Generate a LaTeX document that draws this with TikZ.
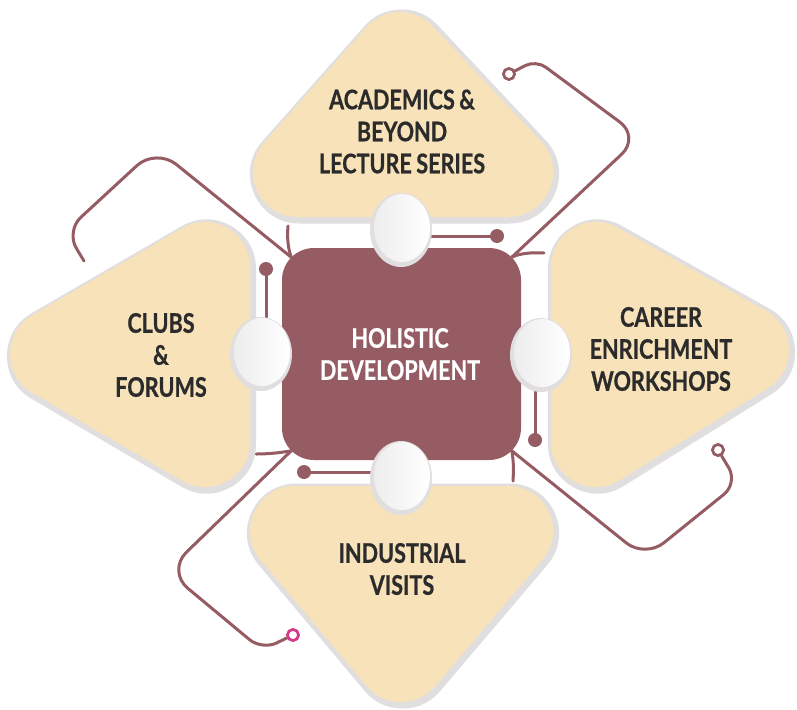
\documentclass[tikz,border=0pt]{standalone}
\usepackage{fontspec}
\newfontfamily\lato[FakeStretch=0.8,FakeBold=0.7,WordSpace=0.85]{Lato}
\usetikzlibrary{shapes.geometric,calc}
\definecolor{maroon}{RGB}{149,92,99}
\definecolor{beige}{RGB}{247,226,186}
\definecolor{rimg}{RGB}{224,222,223}
\definecolor{ink}{RGB}{43,43,43}
\definecolor{pinkc}{RGB}{214,58,140}
\begin{document}
\begin{tikzpicture}[x=1pt,y=-1pt,
  wire/.style={draw=maroon,line width=3pt,line cap=round},
  ring/.style={circle,draw=#1,line width=2.6pt,fill=white,minimum size=11pt,inner sep=0pt},
  ring/.default=maroon,
  dot/.style={circle,fill=maroon,minimum size=14pt,inner sep=0pt},
  pinshape/.style={ellipse,fill=rimg,minimum width=62pt,minimum height=74pt,inner sep=0pt},
  tririm/.style={draw=rimg,fill=rimg,line width=99pt,line join=round},
  trifill/.style={draw=beige,fill=beige,line width=90pt,line join=round},
  lab/.style={font=\lato\bfseries\fontsize{27}{32}\selectfont,text=ink,align=center,inner sep=0pt}
]
\useasboundingbox (0,0) rectangle (797,709);
\fill[white] (0,0) rectangle (797,709);

% hub geometry (for coordinates)
\path (401.5,354) node[minimum width=239pt,minimum height=212pt,inner sep=0pt] (hubbox) {};
\coordinate (hubNW) at ($(hubbox.north west)+(9.4,9.4)$);
\coordinate (hubNE) at ($(hubbox.north east)+(-9.4,9.4)$);
\coordinate (hubSE) at ($(hubbox.south east)+(-9.4,-9.4)$);
\coordinate (hubSW) at ($(hubbox.south west)+(9.4,-9.4)$);

% end rings and dots
\node[ring] (c1) at (509,74) {};
\node[ring] (c2) at (718,450) {};
\node[ring=pinkc] (c3) at (293,635) {};
\coordinate (tlend) at (84,261);

% long wires
\draw[wire] (c1) [rounded corners=12pt] -- (536,60) [rounded corners=25pt] -- (640,137) -- (hubNE);
\draw[wire] (tlend) [rounded corners=20pt] -- (66,231) [rounded corners=26pt] -- (156,148) -- (hubNW);
\draw[wire] (hubSE) [rounded corners=24pt] -- (645,558) [rounded corners=18pt] -- (738,483) -- (c2);
\draw[wire] (hubSW) [rounded corners=27pt] -- (167,571) [rounded corners=16pt] -- (262,650) -- (c3);
\node[ring] at (c1) {};
\node[ring] at (c2) {};
\node[ring=pinkc] at (c3) {};

% whiskers
\draw[wire] (hubNW) .. controls (288,248) and (287,238) .. (288,226);
\draw[wire] (hubNE) .. controls (518,254) and (530,252) .. (544,253);
\draw[wire] (hubSE) .. controls (513,457) and (514,467) .. (513,481);
\draw[wire] (hubSW) .. controls (284,452) and (272,454) .. (256,454);

% pins (positions)
\path (401,230) coordinate (ptc) (261,354) coordinate (plc) (541,355) coordinate (prc) (401,478) coordinate (pbc);

% dot sticks
\node[dot] (d1) at (266,269) {};
\node[dot] (d2) at (497,236) {};
\node[dot] (d3) at (535,440) {};
\node[dot] (d4) at (304,472) {};
\draw[wire] (d1.center) -- (d1 |- plc);
\draw[wire] (d2.center) -- (d2 -| ptc);
\draw[wire] (d3.center) -- (d3 |- prc);
\draw[wire] (d4.center) -- (d4 -| pbc);

% triangles
\begin{scope}[shift={(1.5,2)}]
\draw[tririm] (298,172) -- (508,172) -- (400,57) -- cycle;
\draw[tririm] (205,267) -- (205,442) -- (55,354) -- cycle;
\draw[tririm] (596,267) -- (596,442) -- (744,350) -- cycle;
\draw[tririm] (295,531) -- (508,531) -- (401,657) -- cycle;
\end{scope}
\draw[trifill] (298,172) -- (508,172) -- (400,57) -- cycle;
\draw[trifill] (205,267) -- (205,442) -- (55,354) -- cycle;
\draw[trifill] (596,267) -- (596,442) -- (744,350) -- cycle;
\draw[trifill] (295,531) -- (508,531) -- (401,657) -- cycle;

% hub
\node[fill=maroon,rounded corners=32pt,minimum width=239pt,minimum height=212pt,inner sep=0pt] (hub) at (401.5,354) {};
\node[lab,text=white] (hubtxt) at (400,354) {HOLISTIC\\DEVELOPMENT};

% pins
\foreach \p/\n in {ptc/pt,plc/pl,prc/pr,pbc/pb}{
  \node[pinshape] (\n) at (\p) {};
  \shade[left color=black!7,right color=white] ($(\p)+(1,-2)$) ellipse [x radius=28pt,y radius=34pt];
}

% labels
\node[lab] (tA) at (402,131.5) {ACADEMICS \&\\BEYOND\\LECTURE SERIES};
\node[lab] (tC) at (161,355) {CLUBS\\\&\\FORUMS};
\node[lab] (tR) at (661,349) {CAREER\\ENRICHMENT\\WORKSHOPS};
\node[lab] (tI) at (402,569) {INDUSTRIAL\\VISITS};
\end{tikzpicture}
\end{document}
